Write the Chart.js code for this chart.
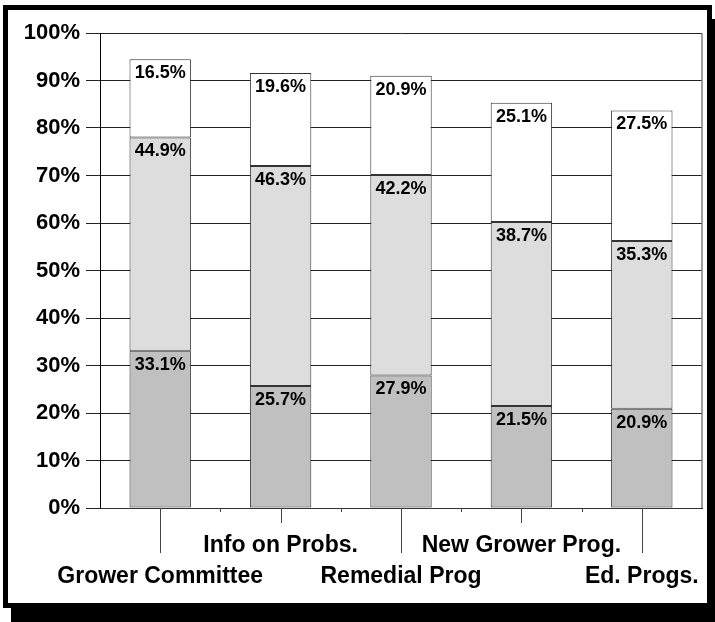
<!DOCTYPE html>
<html>
<head>
<meta charset="utf-8">
<script src="https://cdn.jsdelivr.net/npm/chart.js@4.4.1/dist/chart.umd.min.js"></script>
<style>
    html, body { margin: 0; padding: 0; background: #fff; }
    #wrap { position: relative; width: 715px; height: 622px; overflow: hidden; }
    #frame { position: absolute; left: 3px; top: 5px; width: 699px; height: 593px; border: 5px solid #000; box-shadow: 8px 14px 0 #000; background: #fff; }
    #serviceChart { position: absolute; left: 0; top: 0; }
</style>
</head>
<body>
<div id="wrap">
    <div id="frame"></div>
    <canvas id="serviceChart" width="715" height="622"></canvas>
</div>
<script>
var categories = ['Grower Committee', 'Info on Probs.', 'Remedial Prog', 'New Grower Prog.', 'Ed. Progs.'];
var labelRow = [1, 0, 1, 0, 1];
var bottomShare = [33.1, 25.7, 27.9, 21.5, 20.9];
var middleShare = [44.9, 46.3, 42.2, 38.7, 35.3];
var topShare = [16.5, 19.6, 20.9, 25.1, 27.5];
var yTicks = [0, 10, 20, 30, 40, 50, 60, 70, 80, 90, 100];

var FONT = '"Liberation Sans", Arial, sans-serif';

// staggered labels: second-row labels get an empty first line
var labels = categories.map(function (c, i) {
    return labelRow[i] ? ['', c] : [c];
});

var overlay = {
    id: 'overlay',
    afterDatasetsDraw: function (chart) {
        var ctx = chart.ctx, a = chart.chartArea, xs = chart.scales.x;
        ctx.save();
        // right border of plot
        ctx.strokeStyle = '#808080';
        ctx.lineWidth = 1.5;
        ctx.beginPath();
        ctx.moveTo(a.right, a.top);
        ctx.lineTo(a.right, a.bottom);
        ctx.stroke();

        // leader lines under each bar and little ticks between categories
        ctx.strokeStyle = '#444';
        ctx.lineWidth = 1;
        for (var i = 0; i < categories.length; i++) {
            var x = Math.round(xs.getPixelForValue(i)) + 0.5;
            ctx.beginPath();
            ctx.moveTo(x, a.bottom);
            ctx.lineTo(x, a.bottom + (labelRow[i] ? 45 : 15));
            ctx.stroke();
            if (i > 0) {
                var bx = Math.round((xs.getPixelForValue(i - 1) + xs.getPixelForValue(i)) / 2) + 0.5;
                ctx.beginPath();
                ctx.moveTo(bx, a.bottom);
                ctx.lineTo(bx, a.bottom + 4);
                ctx.stroke();
            }
        }

        // value labels at the top of each segment
        ctx.font = 'bold 18px ' + FONT;
        ctx.fillStyle = '#000';
        ctx.textAlign = 'center';
        ctx.textBaseline = 'middle';
        chart.data.datasets.forEach(function (ds, d) {
            chart.getDatasetMeta(d).data.forEach(function (bar, i) {
                ctx.fillText(ds.data[i].toFixed(1) + '%', bar.x, bar.y + 14);
            });
        });
        ctx.restore();
    }
};

var ctx = document.getElementById('serviceChart').getContext('2d');
var serviceChart = new Chart(ctx, {
    type: 'bar',
    data: {
        labels: labels,
        datasets: [{
            data: bottomShare,
            backgroundColor: '#c0c0c0',
            borderColor: '#333',
            borderWidth: 1,
            borderSkipped: false
        }, {
            data: middleShare,
            backgroundColor: '#dddddd',
            borderColor: '#333',
            borderWidth: 1,
            borderSkipped: false
        }, {
            data: topShare,
            backgroundColor: '#ffffff',
            borderColor: '#333',
            borderWidth: 1,
            borderSkipped: false
        }]
    },
    plugins: [overlay],
    options: {
        responsive: false,
        animation: false,
        layout: { padding: { top: 33, right: 13, left: 0, bottom: 0 } },
        datasets: { bar: { barPercentage: 1, categoryPercentage: 0.51 } },
        plugins: {
            legend: { display: false },
            tooltip: { enabled: false }
        },
        scales: {
            x: {
                stacked: true,
                offset: true,
                afterFit: function (s) { s.height = 114; s.paddingLeft = 0; s.paddingRight = 0; },
                grid: { display: true, drawOnChartArea: false, drawTicks: true, tickLength: 22, tickColor: 'rgba(0,0,0,0)', offset: true },
                border: { color: '#333', width: 1 },
                ticks: {
                    padding: 0,
                    maxRotation: 0,
                    minRotation: 0,
                    autoSkip: false,
                    color: '#000',
                    font: { family: FONT, size: 23, weight: 'bold', lineHeight: '31px' }
                }
            },
            y: {
                stacked: true,
                min: 0,
                max: 100,
                afterFit: function (s) { s.width = 100; },
                afterBuildTicks: function (s) { s.ticks = yTicks.map(function (v) { return { value: v }; }); },
                grid: { color: '#222', lineWidth: 1, tickLength: 14, tickColor: '#222' },
                border: { color: '#000', width: 1 },
                ticks: {
                    padding: 6,
                    color: '#000',
                    font: { family: FONT, size: 22, weight: 'bold' },
                    callback: function (v) { return v + '%'; }
                }
            }
        }
    }
});
</script>
</body>
</html>
